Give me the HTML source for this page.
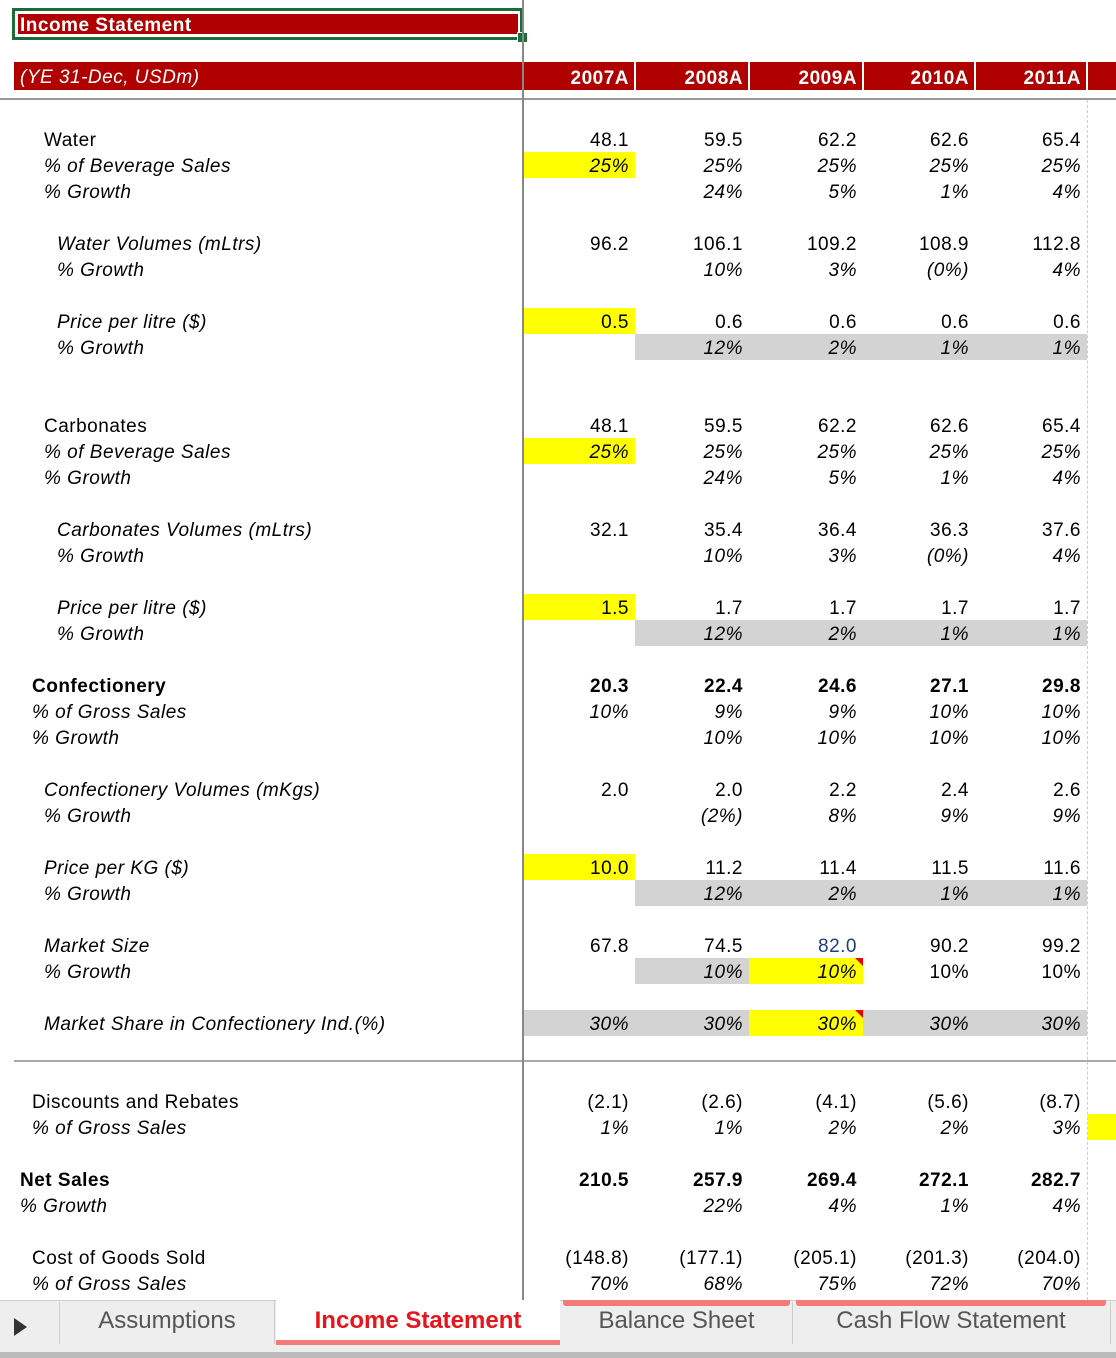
<!DOCTYPE html><html><head><meta charset="utf-8"><style>
body{margin:0;width:1116px;height:1358px;background:#fff;position:relative;overflow:hidden;font-family:"Liberation Sans",Arial,sans-serif;font-size:19px;color:#000;letter-spacing:0.5px}
.a{position:absolute}
.r{position:absolute;left:0;width:1116px;height:26px;line-height:30px}
.l{position:absolute;white-space:nowrap}
.c{position:absolute;top:0;height:26px;text-align:right;box-sizing:border-box;padding-right:6px}
.c1{left:524px;width:111px}.c2{left:635px;width:114px}.c3{left:749px;width:114px}.c4{left:863px;width:112px}.c5{left:975px;width:112px}
i{font-style:italic}
.y{background:#ffff00}.g{background:#d3d3d3}
.b{font-weight:bold}
.tri{position:absolute;right:0;top:0;width:0;height:0;border-left:8px solid transparent;border-top:8px solid #e00}
</style></head><body>
<div class="a" style="left:12px;top:8px;width:511px;height:32px;border:3px solid #1e6b3a;box-sizing:border-box"></div>
<div class="a" style="left:17px;top:13px;width:502px;height:22px;background:#b00000;border:1px solid #fff;color:#fff;font-weight:bold;line-height:24px;padding-left:2px;box-sizing:border-box">Income Statement</div>
<div class="a" style="left:517px;top:32px;width:9px;height:9px;background:#1e6b3a;border:1px solid #fff"></div>
<div class="a" style="left:14px;top:62px;width:1102px;height:28px;background:#b00000;color:#fff;line-height:28px"></div>
<div class="a" style="left:20px;top:64px;line-height:28px;color:#fff;font-style:italic">(YE 31-Dec, USDm)</div>
<div class="r" style="top:64px;color:#fff;font-weight:bold"><div class="c c1">2007A</div><div class="c c2">2008A</div><div class="c c3">2009A</div><div class="c c4">2010A</div><div class="c c5">2011A</div></div>
<div class="a" style="left:634px;top:62px;width:2px;height:28px;background:#fff"></div>
<div class="a" style="left:748px;top:62px;width:2px;height:28px;background:#fff"></div>
<div class="a" style="left:862px;top:62px;width:2px;height:28px;background:#fff"></div>
<div class="a" style="left:974px;top:62px;width:2px;height:28px;background:#fff"></div>
<div class="a" style="left:1086px;top:62px;width:2px;height:28px;background:#fff"></div>
<div class="a" style="left:0;top:98px;width:1116px;height:2px;background:#999"></div>
<div class="a" style="left:14px;top:1060px;width:1102px;height:2px;background:#aaa"></div>
<div class="a" style="left:1087px;top:100px;width:0;height:1200px;border-left:1px dashed #ccc"></div>
<div class="a" style="left:1088px;top:1114px;width:28px;height:26px;background:#ffff00"></div>

<div class="r" style="top:126px"><span class="l" style="left:44px">Water</span><div class="c c1">48.1</div><div class="c c2">59.5</div><div class="c c3">62.2</div><div class="c c4">62.6</div><div class="c c5">65.4</div></div>
<div class="r" style="top:152px"><i class="l" style="left:44px">% of Beverage Sales</i><div class="c c1 y"><i>25%</i></div><div class="c c2"><i>25%</i></div><div class="c c3"><i>25%</i></div><div class="c c4"><i>25%</i></div><div class="c c5"><i>25%</i></div></div>
<div class="r" style="top:178px"><i class="l" style="left:44px">% Growth</i><div class="c c2"><i>24%</i></div><div class="c c3"><i>5%</i></div><div class="c c4"><i>1%</i></div><div class="c c5"><i>4%</i></div></div>

<div class="r" style="top:230px"><i class="l" style="left:57px">Water Volumes (mLtrs)</i><div class="c c1">96.2</div><div class="c c2">106.1</div><div class="c c3">109.2</div><div class="c c4">108.9</div><div class="c c5">112.8</div></div>
<div class="r" style="top:256px"><i class="l" style="left:57px">% Growth</i><div class="c c2"><i>10%</i></div><div class="c c3"><i>3%</i></div><div class="c c4"><i>(0%)</i></div><div class="c c5"><i>4%</i></div></div>

<div class="r" style="top:308px"><i class="l" style="left:57px">Price per litre ($)</i><div class="c c1 y">0.5</div><div class="c c2">0.6</div><div class="c c3">0.6</div><div class="c c4">0.6</div><div class="c c5">0.6</div></div>
<div class="r" style="top:334px"><i class="l" style="left:57px">% Growth</i><div class="c c2 g"><i>12%</i></div><div class="c c3 g"><i>2%</i></div><div class="c c4 g"><i>1%</i></div><div class="c c5 g"><i>1%</i></div></div>

<div class="r" style="top:412px"><span class="l" style="left:44px">Carbonates</span><div class="c c1">48.1</div><div class="c c2">59.5</div><div class="c c3">62.2</div><div class="c c4">62.6</div><div class="c c5">65.4</div></div>
<div class="r" style="top:438px"><i class="l" style="left:44px">% of Beverage Sales</i><div class="c c1 y"><i>25%</i></div><div class="c c2"><i>25%</i></div><div class="c c3"><i>25%</i></div><div class="c c4"><i>25%</i></div><div class="c c5"><i>25%</i></div></div>
<div class="r" style="top:464px"><i class="l" style="left:44px">% Growth</i><div class="c c2"><i>24%</i></div><div class="c c3"><i>5%</i></div><div class="c c4"><i>1%</i></div><div class="c c5"><i>4%</i></div></div>

<div class="r" style="top:516px"><i class="l" style="left:57px">Carbonates Volumes (mLtrs)</i><div class="c c1">32.1</div><div class="c c2">35.4</div><div class="c c3">36.4</div><div class="c c4">36.3</div><div class="c c5">37.6</div></div>
<div class="r" style="top:542px"><i class="l" style="left:57px">% Growth</i><div class="c c2"><i>10%</i></div><div class="c c3"><i>3%</i></div><div class="c c4"><i>(0%)</i></div><div class="c c5"><i>4%</i></div></div>

<div class="r" style="top:594px"><i class="l" style="left:57px">Price per litre ($)</i><div class="c c1 y">1.5</div><div class="c c2">1.7</div><div class="c c3">1.7</div><div class="c c4">1.7</div><div class="c c5">1.7</div></div>
<div class="r" style="top:620px"><i class="l" style="left:57px">% Growth</i><div class="c c2 g"><i>12%</i></div><div class="c c3 g"><i>2%</i></div><div class="c c4 g"><i>1%</i></div><div class="c c5 g"><i>1%</i></div></div>

<div class="r b" style="top:672px"><span class="l" style="left:32px">Confectionery</span><div class="c c1">20.3</div><div class="c c2">22.4</div><div class="c c3">24.6</div><div class="c c4">27.1</div><div class="c c5">29.8</div></div>
<div class="r" style="top:698px"><i class="l" style="left:32px">% of Gross Sales</i><div class="c c1"><i>10%</i></div><div class="c c2"><i>9%</i></div><div class="c c3"><i>9%</i></div><div class="c c4"><i>10%</i></div><div class="c c5"><i>10%</i></div></div>
<div class="r" style="top:724px"><i class="l" style="left:32px">% Growth</i><div class="c c2"><i>10%</i></div><div class="c c3"><i>10%</i></div><div class="c c4"><i>10%</i></div><div class="c c5"><i>10%</i></div></div>

<div class="r" style="top:776px"><i class="l" style="left:44px">Confectionery Volumes (mKgs)</i><div class="c c1">2.0</div><div class="c c2">2.0</div><div class="c c3">2.2</div><div class="c c4">2.4</div><div class="c c5">2.6</div></div>
<div class="r" style="top:802px"><i class="l" style="left:44px">% Growth</i><div class="c c2"><i>(2%)</i></div><div class="c c3"><i>8%</i></div><div class="c c4"><i>9%</i></div><div class="c c5"><i>9%</i></div></div>

<div class="r" style="top:854px"><i class="l" style="left:44px">Price per KG ($)</i><div class="c c1 y">10.0</div><div class="c c2">11.2</div><div class="c c3">11.4</div><div class="c c4">11.5</div><div class="c c5">11.6</div></div>
<div class="r" style="top:880px"><i class="l" style="left:44px">% Growth</i><div class="c c2 g"><i>12%</i></div><div class="c c3 g"><i>2%</i></div><div class="c c4 g"><i>1%</i></div><div class="c c5 g"><i>1%</i></div></div>

<div class="r" style="top:932px"><i class="l" style="left:44px">Market Size</i><div class="c c1">67.8</div><div class="c c2">74.5</div><div class="c c3" style="color:#1f3f7a">82.0</div><div class="c c4">90.2</div><div class="c c5">99.2</div></div>
<div class="r" style="top:958px"><i class="l" style="left:44px">% Growth</i><div class="c c2 g"><i>10%</i></div><div class="c c3 y"><i>10%</i><span class="tri"></span></div><div class="c c4">10%</div><div class="c c5">10%</div></div>

<div class="r" style="top:1010px"><i class="l" style="left:44px">Market Share in Confectionery Ind.(%)</i><div class="c c1 g"><i>30%</i></div><div class="c c2 g"><i>30%</i></div><div class="c c3 y"><i>30%</i><span class="tri"></span></div><div class="c c4 g"><i>30%</i></div><div class="c c5 g"><i>30%</i></div></div>

<div class="r" style="top:1088px"><span class="l" style="left:32px">Discounts and Rebates</span><div class="c c1">(2.1)</div><div class="c c2">(2.6)</div><div class="c c3">(4.1)</div><div class="c c4">(5.6)</div><div class="c c5">(8.7)</div></div>
<div class="r" style="top:1114px"><i class="l" style="left:32px">% of Gross Sales</i><div class="c c1"><i>1%</i></div><div class="c c2"><i>1%</i></div><div class="c c3"><i>2%</i></div><div class="c c4"><i>2%</i></div><div class="c c5"><i>3%</i></div></div>

<div class="r b" style="top:1166px"><span class="l" style="left:20px">Net Sales</span><div class="c c1">210.5</div><div class="c c2">257.9</div><div class="c c3">269.4</div><div class="c c4">272.1</div><div class="c c5">282.7</div></div>
<div class="r" style="top:1192px"><i class="l" style="left:20px">% Growth</i><div class="c c2"><i>22%</i></div><div class="c c3"><i>4%</i></div><div class="c c4"><i>1%</i></div><div class="c c5"><i>4%</i></div></div>

<div class="r" style="top:1244px"><span class="l" style="left:32px">Cost of Goods Sold</span><div class="c c1">(148.8)</div><div class="c c2">(177.1)</div><div class="c c3">(205.1)</div><div class="c c4">(201.3)</div><div class="c c5">(204.0)</div></div>
<div class="r" style="top:1270px"><i class="l" style="left:32px">% of Gross Sales</i><div class="c c1"><i>70%</i></div><div class="c c2"><i>68%</i></div><div class="c c3"><i>75%</i></div><div class="c c4"><i>72%</i></div><div class="c c5"><i>70%</i></div></div>

<div class="a" style="left:522px;top:0;width:2px;height:1300px;background:#888"></div>

<div class="a" style="left:0;top:1300px;width:1116px;height:58px;background:#eeeeee;border-top:1px solid #ccc;box-sizing:border-box"></div>
<div class="a" style="left:0;top:1352px;width:1116px;height:6px;background:#bbb"></div>
<div class="a" style="left:14px;top:1318px;width:0;height:0;border-top:9px solid transparent;border-bottom:9px solid transparent;border-left:13px solid #333"></div>
<div class="a" style="left:59px;top:1302px;width:1px;height:42px;background:#ccc"></div>
<div class="a" style="left:60px;top:1300px;width:214px;line-height:42px;text-align:center;font-size:24px;color:#555;letter-spacing:0">Assumptions</div>
<div class="a" style="left:274px;top:1300px;width:1px;height:44px;background:#ccc"></div>
<div class="a" style="left:276px;top:1300px;width:284px;height:40px;background:#fff;border-bottom:5px solid #f47a7a;box-sizing:content-box;line-height:42px;text-align:center;font-size:24px;color:#e8141c;font-weight:bold;letter-spacing:0">Income Statement</div>
<div class="a" style="left:563px;top:1300px;width:227px;height:6px;background:#f47a7a;border-radius:0 0 3px 3px"></div>
<div class="a" style="left:563px;top:1300px;width:227px;line-height:42px;text-align:center;font-size:24px;color:#555;letter-spacing:0">Balance Sheet</div>
<div class="a" style="left:792px;top:1302px;width:1px;height:42px;background:#ccc"></div>
<div class="a" style="left:796px;top:1300px;width:310px;height:6px;background:#f47a7a;border-radius:0 0 3px 3px"></div>
<div class="a" style="left:796px;top:1300px;width:310px;line-height:42px;text-align:center;font-size:24px;color:#555;letter-spacing:0">Cash Flow Statement</div>
<div class="a" style="left:1110px;top:1302px;width:1px;height:42px;background:#ccc"></div>
</body></html>
